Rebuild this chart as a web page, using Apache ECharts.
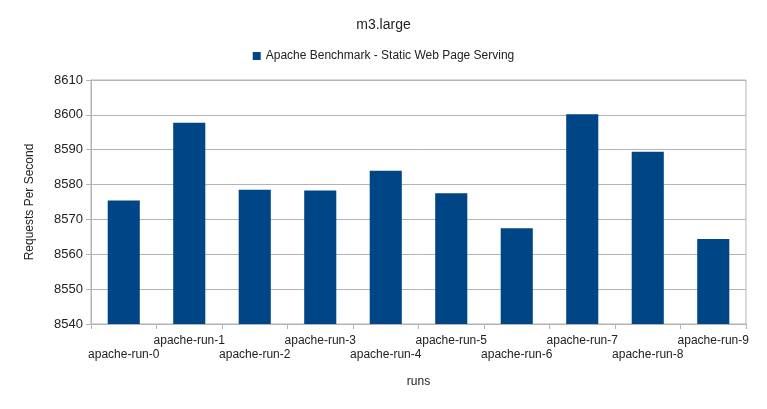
<!DOCTYPE html>
<html>
<head>
<meta charset="utf-8">
<script src="https://cdn.jsdelivr.net/npm/echarts@6/dist/echarts.min.js"></script>
<style>
    html, body {margin: 0; padding: 0; background: #fff;}
    #chart {width: 767px; height: 409px;}
</style>
</head>
<body>
<div id="chart"></div>
<script>
const runs = ['apache-run-0', 'apache-run-1', 'apache-run-2', 'apache-run-3', 'apache-run-4',
    'apache-run-5', 'apache-run-6', 'apache-run-7', 'apache-run-8', 'apache-run-9'];
const requestsPerSecond = [8575.4, 8597.7, 8578.5, 8578.3, 8584.0,
    8577.5, 8567.5, 8600.2, 8589.4, 8564.4];
const seriesName = 'Apache Benchmark - Static Web Page Serving';
const yTicks = {min: 8540, max: 8610, interval: 10};

const font = '"Liberation Sans", Arial, sans-serif';
const chart = echarts.init(document.getElementById('chart'), null, {renderer: 'canvas'});
chart.setOption({
    animation: false,
    textStyle: {fontFamily: font},
    title: {
        text: 'm3.large',
        left: 'center',
        top: 13,
        textStyle: {fontFamily: font, fontSize: 14, fontWeight: 'normal', color: '#222'},
    },
    legend: {
        top: 45,
        left: 'center',
        itemWidth: 8,
        itemHeight: 8,
        itemGap: 6,
        icon: 'rect',
        textStyle: {fontFamily: font, fontSize: 12, color: '#222'},
        data: [seriesName],
    },
    grid: {
        left: 91,
        right: 21,
        top: 80,
        bottom: 85,
        show: true,
        borderColor: '#b3b3b3',
        borderWidth: 1,
    },
    xAxis: {
        type: 'category',
        data: runs,
        name: 'runs',
        nameLocation: 'middle',
        nameGap: 52,
        nameTextStyle: {fontFamily: font, fontSize: 12, color: '#222'},
        axisLine: {lineStyle: {color: '#b3b3b3'}},
        axisTick: {show: true, length: 5, lineStyle: {color: '#b3b3b3'}},
        axisLabel: {
            interval: 0,
            margin: 10,
            fontSize: 12,
            color: '#222',
            lineHeight: 14,
            // staggered labels: even runs drop one line
            formatter: (v, i) => i % 2 ? v : '\n' + v,
        },
    },
    yAxis: {
        type: 'value',
        min: yTicks.min,
        max: yTicks.max,
        interval: yTicks.interval,
        name: 'Requests Per Second',
        nameLocation: 'middle',
        nameGap: 55,
        nameTextStyle: {fontFamily: font, fontSize: 12, color: '#222'},
        axisLine: {show: true, lineStyle: {color: '#b3b3b3'}},
        axisTick: {show: true, length: 5, lineStyle: {color: '#b3b3b3'}},
        axisLabel: {margin: 8, fontSize: 13, color: '#222', formatter: v => String(v)},
        splitLine: {lineStyle: {color: '#b3b3b3'}},
    },
    series: [{
        name: seriesName,
        type: 'bar',
        data: requestsPerSecond,
        barWidth: '49%',
        itemStyle: {color: '#004586'},
    }],
});
</script>
</body>
</html>
